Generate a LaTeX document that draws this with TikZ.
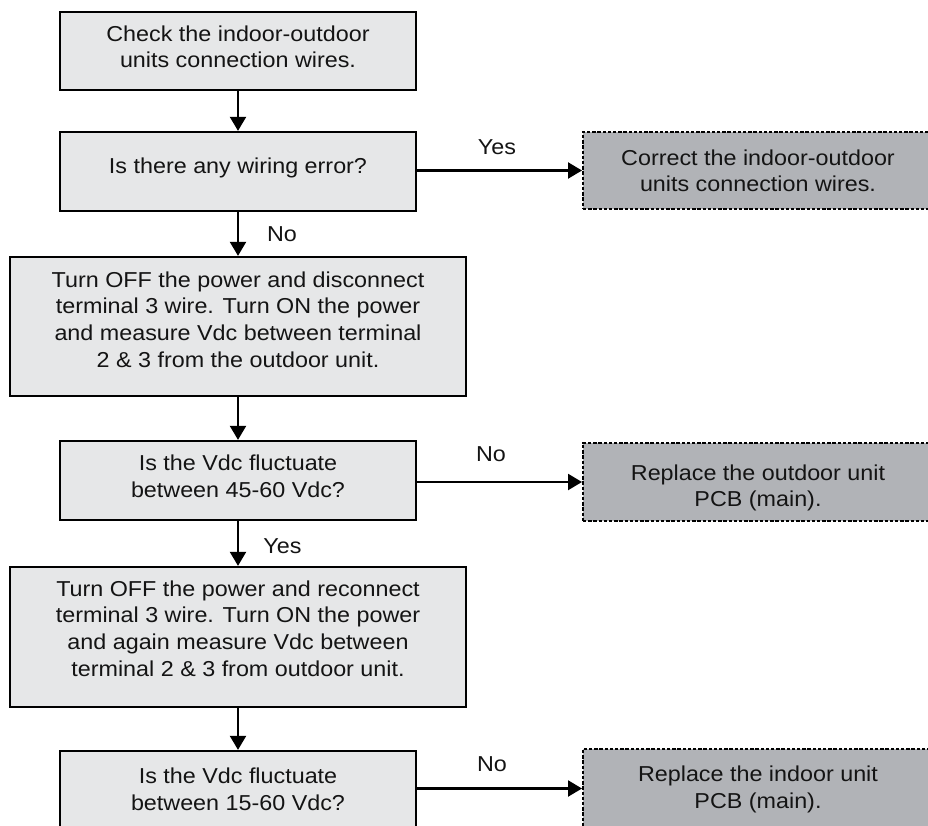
\documentclass[tikz,border=0pt]{standalone}
\usepackage{fontspec}
\setmainfont{Liberation Sans}[FakeStretch=1.08]
\usetikzlibrary{arrows.meta}
\definecolor{boxfill}{RGB}{230,231,232}
\definecolor{endfill}{RGB}{177,179,183}
\definecolor{ink}{RGB}{20,20,20}
\begin{document}
\begin{tikzpicture}[x=1pt,y=-1pt,
  stepbox/.style={draw=black, line width=2.3pt, fill=boxfill, inner sep=0pt},
  endbox/.style={draw=black, line width=2pt, dash pattern=on 3.4pt off 1.8pt, fill=endfill, inner sep=0pt},
  txt/.style={align=center, text=ink, font=\fontsize{21.6}{26.7}\selectfont, inner sep=0pt},
  lbl/.style={text=ink, font=\fontsize{21.6}{26.7}\selectfont, inner sep=0pt},
  arr/.style={line width=2.2pt, -{Triangle[length=14pt,width=16pt]}}]
\useasboundingbox (0,0) rectangle (928,826);
\clip (0,0) rectangle (928,826);
% main boxes
\node[stepbox, minimum width=356pt, minimum height=78pt] (b1) at (238,51) {};
\node[stepbox, minimum width=356pt, minimum height=79pt] (b2) at (238,171.5) {};
\node[stepbox, minimum width=456pt, minimum height=139pt] (b3) at (238,326.5) {};
\node[stepbox, minimum width=356pt, minimum height=79pt] (b4) at (238,480.5) {};
\node[stepbox, minimum width=456pt, minimum height=140pt] (b5) at (238,637) {};
\node[stepbox, minimum width=356pt, minimum height=79pt] (b6) at (238,790.5) {};
% end boxes
\node[endbox, minimum width=350pt, minimum height=77pt] (d1) at (758,170.5) {};
\node[endbox, minimum width=350pt, minimum height=78pt] (d2) at (758,482) {};
\node[endbox, minimum width=350pt, minimum height=79pt] (d3) at (758,788.5) {};
% texts
\node[txt] (t1) at (238,46.7) {Check the indoor-outdoor\\units connection wires.};
\node[txt] (t2) at (238,168) {Is there any wiring error?};
\node[txt] (t3) at (238,319.5) {Turn OFF the power and disconnect\\terminal 3 wire. Turn ON the power\\and measure Vdc between terminal\\2 \& 3 from the outdoor unit.};
\node[txt] (t4) at (238,476) {Is the Vdc fluctuate\\between 45-60 Vdc?};
\node[txt] (t5) at (238,628.6) {Turn OFF the power and reconnect\\terminal 3 wire. Turn ON the power\\and again measure Vdc between\\terminal 2 \& 3 from outdoor unit.};
\node[txt] (t6) at (238,789.6) {Is the Vdc fluctuate\\between 15-60 Vdc?};
\node[txt] (u1) at (758,170.7) {Correct the indoor-outdoor\\units connection wires.};
\node[txt] (u2) at (758,488) {Replace the outdoor unit\\PCB (main).};
\node[txt] (u3) at (758,789.6) {Replace the indoor unit\\PCB (main).};
% connectors
\draw[arr] (b1.south) -- (b2.north);
\draw[arr] (b2.south) -- (b3.north);
\draw[arr] (b3.south) -- (b4.north);
\draw[arr] (b4.south) -- (b5.north);
\draw[arr] (b5.south) -- (b6.north);
\draw[arr] (b2.east |- d1.west) -- (d1.west);
\draw[arr] (b4.east |- d2.west) -- (d2.west);
\draw[arr] (b6.east |- d3.west) -- (d3.west);
% labels
\node[lbl] (l1) at (497,147.5) {Yes};
\node[lbl] (l2) at (282,234) {No};
\node[lbl] (l3) at (491,454) {No};
\node[lbl] (l4) at (282.5,546.5) {Yes};
\node[lbl] (l5) at (492,764) {No};
\end{tikzpicture}
\end{document}
